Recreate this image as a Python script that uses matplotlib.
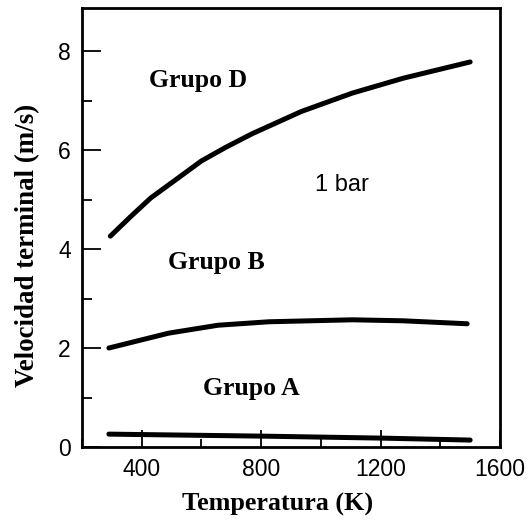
import numpy as np
import matplotlib.pyplot as plt
from matplotlib.ticker import MultipleLocator

# datos
temp_d = [295, 362, 430, 514, 600, 683, 770, 935, 1105, 1275, 1500]
grupo_d = [4.26, 4.65, 5.03, 5.4, 5.78, 6.06, 6.33, 6.78, 7.15, 7.45, 7.78]
temp_b = [290, 490, 655, 825, 1105, 1275, 1490]
grupo_b = [2.0, 2.3, 2.46, 2.53, 2.57, 2.55, 2.49]
temp_a = [290, 800, 1200, 1500]
grupo_a = [0.26, 0.22, 0.18, 0.14]

fig = plt.figure(figsize=(5.28, 5.23), dpi=100)
ax = fig.add_axes([82 / 528, 76 / 523, 418 / 528, 439 / 523])

ax.plot(temp_d, grupo_d, color='black', lw=3.6, solid_capstyle='round', solid_joinstyle='round')
ax.plot(temp_b, grupo_b, color='black', lw=3.6, solid_capstyle='round', solid_joinstyle='round')
ax.plot(temp_a, grupo_a, color='black', lw=3.6, solid_capstyle='round')

serif = 'Liberation Serif'
ax.text(588, 7.41, 'Grupo D', family=serif, weight='bold', fontsize=18.5, ha='center', va='center')
ax.text(649, 3.72, 'Grupo B', family=serif, weight='bold', fontsize=18.5, ha='center', va='center')
ax.text(767, 1.19, 'Grupo A', family=serif, weight='bold', fontsize=18.5, ha='center', va='center')
ax.text(1071, 5.29, '1 bar', family='Liberation Sans', fontsize=17, ha='center', va='center')

ax.set_xlim(200, 1600)
ax.set_ylim(0, 8.87)
ax.set_xticks([400, 800, 1200, 1600])
ax.set_yticks([0, 2, 4, 6, 8])
ax.xaxis.set_minor_locator(MultipleLocator(200))
ax.yaxis.set_minor_locator(MultipleLocator(1))
ax.tick_params(direction='in', length=14, width=1.3, labelsize=16.5, pad=8)
ax.tick_params(which='minor', direction='in', length=7, width=1.3)
ax.tick_params(axis='x', which='major', length=12)
ax.tick_params(axis='x', which='minor', length=6)
for lab in ax.get_xticklabels() + ax.get_yticklabels():
    lab.set_family('Liberation Sans')
for sp in ax.spines.values():
    sp.set_linewidth(2)

ax.set_xlabel('Temperatura (K)', family=serif, weight='bold', fontsize=18.8, va='center')
ax.set_ylabel('Velocidad terminal (m/s)', family=serif, weight='bold', fontsize=19.4, va='center')
ax.xaxis.set_label_coords(0.469, -0.132)
ax.yaxis.set_label_coords(-0.13, 0.46)

fig.savefig('out.png', dpi=100)
